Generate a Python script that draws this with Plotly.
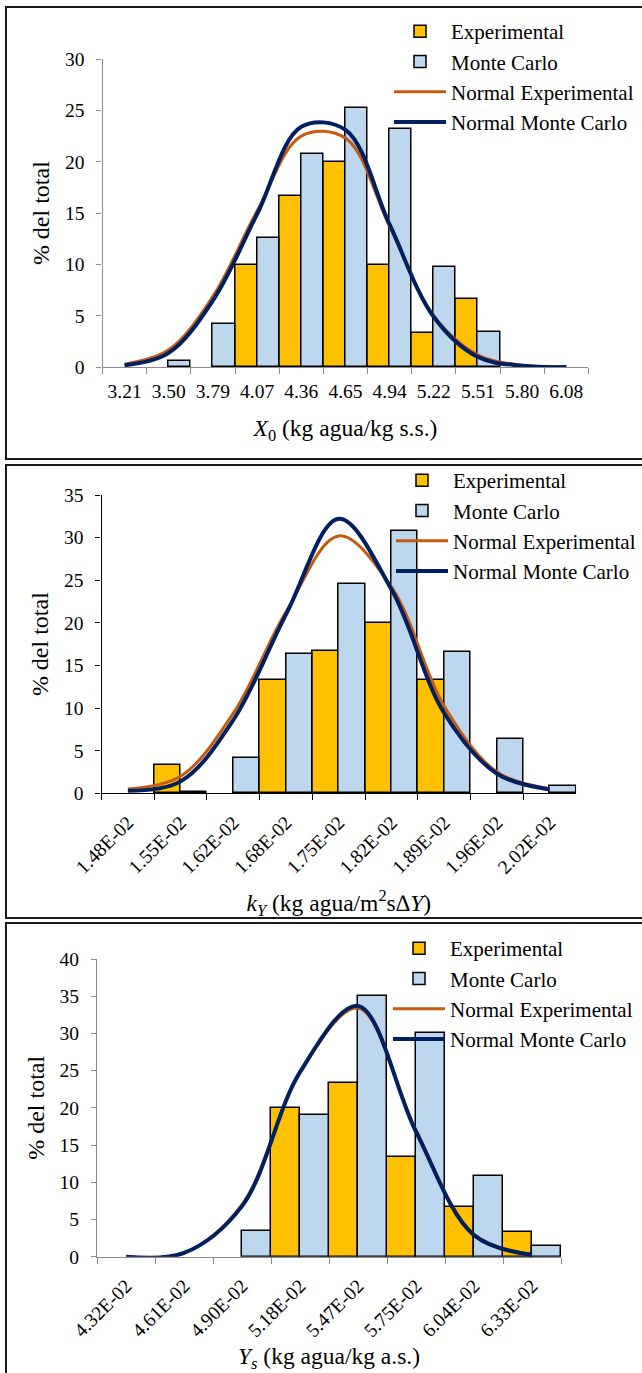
import plotly.graph_objects as go

# ---- X0 panel ----
x0_labels = ["3.21", "3.50", "3.79", "4.07", "4.36", "4.65", "4.94", "5.22", "5.51", "5.80", "6.08"]
x0_exp = [0, 0, 0, 10.0, 16.67, 20.0, 10.0, 3.33, 6.67, 0, 0]
x0_mc = [0, 0.6, 4.2, 12.6, 20.8, 25.2, 23.2, 9.8, 3.4, 0, 0]
x0_norm_exp = [0.3, 1.7, 6.9, 15.2, 22.5, 22.3, 13.7, 5.0, 1.2, 0.2, 0.03]
x0_norm_mc = [0.2, 1.4, 6.5, 14.9, 23.4, 23.1, 13.9, 4.9, 1.0, 0.15, 0.02]

# ---- kY panel ----
ky_labels = ["1.48E-02", "1.55E-02", "1.62E-02", "1.68E-02", "1.75E-02",
             "1.82E-02", "1.89E-02", "1.96E-02", "2.02E-02"]
ky_exp = [0, 3.33, 0, 13.33, 16.67, 20.0, 13.33, 0, 0]
ky_mc = [0, 0.2, 4.2, 16.4, 24.6, 30.8, 16.6, 6.4, 0.8]
ky_norm_exp = [0.5, 2.0, 9.4, 21.3, 30.2, 24.2, 10.2, 2.5, 0.55]
ky_norm_mc = [0.3, 1.4, 8.6, 21.0, 32.2, 23.9, 9.4, 2.3, 0.45]

# ---- Ys panel ----
ys_labels = ["4.32E-02", "4.61E-02", "4.90E-02", "5.18E-02",
             "5.47E-02", "5.75E-02", "6.04E-02", "6.33E-02"]
ys_exp = [0, 0, 0, 20.0, 23.33, 13.33, 6.67, 3.33]
ys_mc = [0, 0, 3.4, 19.1, 35.0, 30.1, 10.8, 1.4]
ys_norm_exp = [0.0, 0.5, 7.0, 24.8, 33.4, 17.0, 3.0, 0.3]
ys_norm_mc = [0.0, 0.5, 6.8, 24.8, 33.7, 16.8, 2.9, 0.25]

W, H = 642, 1373
FONT = "Liberation Serif, Tinos, Times New Roman, DejaVu Serif, serif"
EXP_FILL = "#FFC000"
MC_FILL = "#BDD7EE"
EXP_LINE = "#C55A11"
MC_LINE = "#002060"


def nz(vals):
    return [v if v else None for v in vals]


fig = go.Figure()

panels = [
    dict(labels=x0_labels, exp=x0_exp, mc=x0_mc, nexp=x0_norm_exp, nmc=x0_norm_mc,
         xd=(102.5, 588.4), yd=(59, 367.3), yr=30, axcol="#8c8c8c",
         title="<i>X</i><sub>0</sub> (kg agua/kg s.s.)", angle=0, xstand=18, lstand=6,
         legtop=11, legx=389),
    dict(labels=ky_labels, exp=ky_exp, mc=ky_mc, nexp=ky_norm_exp, nmc=ky_norm_mc,
         xd=(101.5, 576.1), yd=(495, 793.3), yr=35, axcol="#000000",
         title="<i>k<sub>Y</sub></i> (kg agua/m<sup>2</sup>s\u2206<i>Y</i>)", angle=-45, xstand=17, lstand=9,
         legtop=460, legx=391),
    dict(labels=ys_labels, exp=ys_exp, mc=ys_mc, nexp=ys_norm_exp, nmc=ys_norm_mc,
         xd=(97, 561), yd=(959, 1256.7), yr=40, axcol="#8c8c8c",
         title="<i>Y<sub>s</sub></i> (kg agua/kg a.s.)", angle=-45, xstand=12, lstand=9,
         legtop=928, legx=388),
]

for i, p in enumerate(panels, start=1):
    xa = "x" if i == 1 else f"x{i}"
    ya = "y" if i == 1 else f"y{i}"
    leg = "legend" if i == 1 else f"legend{i}"
    fig.add_trace(go.Bar(x=p["labels"], y=nz(p["exp"]), name="Experimental",
                         marker=dict(color=EXP_FILL, line=dict(color="black", width=1.5)),
                         xaxis=xa, yaxis=ya, legend=leg, legendgroup=f"e{i}"))
    fig.add_trace(go.Bar(x=p["labels"], y=nz(p["mc"]), name="Monte Carlo",
                         marker=dict(color=MC_FILL, line=dict(color="black", width=1.5)),
                         xaxis=xa, yaxis=ya, legend=leg, legendgroup=f"m{i}"))
    fig.add_trace(go.Scatter(x=p["labels"], y=p["nexp"], name="Normal Experimental",
                             mode="lines", line=dict(color=EXP_LINE, width=3, shape="spline", smoothing=1),
                             xaxis=xa, yaxis=ya, legend=leg, legendgroup=f"ne{i}"))
    fig.add_trace(go.Scatter(x=p["labels"], y=p["nmc"], name="Normal Monte Carlo",
                             mode="lines", line=dict(color=MC_LINE, width=4, shape="spline", smoothing=1),
                             xaxis=xa, yaxis=ya, legend=leg, legendgroup=f"nm{i}"))

    n = len(p["labels"])
    xkey = "xaxis" if i == 1 else f"xaxis{i}"
    ykey = "yaxis" if i == 1 else f"yaxis{i}"
    fig.layout[xkey] = dict(
        domain=[p["xd"][0] / W, p["xd"][1] / W], anchor=ya, automargin=False,
        type="category", range=[-0.5, n - 0.5], tickson="boundaries",
        showline=True, linecolor=p["axcol"], linewidth=1.3,
        ticks="outside", ticklen=6, tickcolor=p["axcol"], tickwidth=1.3,
        showgrid=False, zeroline=False, tickangle=p["angle"],
        tickfont=dict(family=FONT, size=19.5, color="black"),
        ticklabelstandoff=p["lstand"],
        title=dict(text=p["title"], font=dict(family=FONT, size=23.5, color="black"),
                   standoff=p["xstand"]),
        fixedrange=True,
    )
    fig.layout[ykey] = dict(
        domain=[1 - p["yd"][1] / H, 1 - p["yd"][0] / H], anchor=xa, automargin=False,
        range=[0, p["yr"]], dtick=5,
        showline=True, linecolor=p["axcol"], linewidth=1.3,
        ticks="outside", ticklen=5, tickcolor=p["axcol"], tickwidth=1.3,
        showgrid=False, zeroline=False,
        tickfont=dict(family=FONT, size=19.5, color="black"), ticklabelstandoff=8,
        title=dict(text="% del total", font=dict(family=FONT, size=24, color="black"), standoff=8),
        fixedrange=True,
    )
    fig.layout[leg] = dict(
        x=p["legx"] / W, xanchor="left", y=1 - p["legtop"] / H, yanchor="top",
        font=dict(family=FONT, size=21, color="black"), bgcolor="rgba(0,0,0,0)",
        tracegroupgap=7, itemwidth=52, traceorder="normal",
    )

# panel frames
frames = [(6, 7, 459), (6, 465, 918), (6, 923, 1380)]
for x0, t, b in frames:
    fig.add_shape(type="rect", xref="paper", yref="paper",
                  x0=x0 / W, x1=1.02, y0=1 - b / H, y1=1 - t / H,
                  line=dict(color="#1a1a1a", width=2), fillcolor="rgba(0,0,0,0)")

fig.update_layout(
    width=W, height=H, margin=dict(l=0, r=0, t=0, b=0, autoexpand=False),
    paper_bgcolor="white", plot_bgcolor="white",
    barmode="group", bargap=0, bargroupgap=0,
    font=dict(family=FONT, color="black"),
    showlegend=True,
)

fig.write_html("out.html")
